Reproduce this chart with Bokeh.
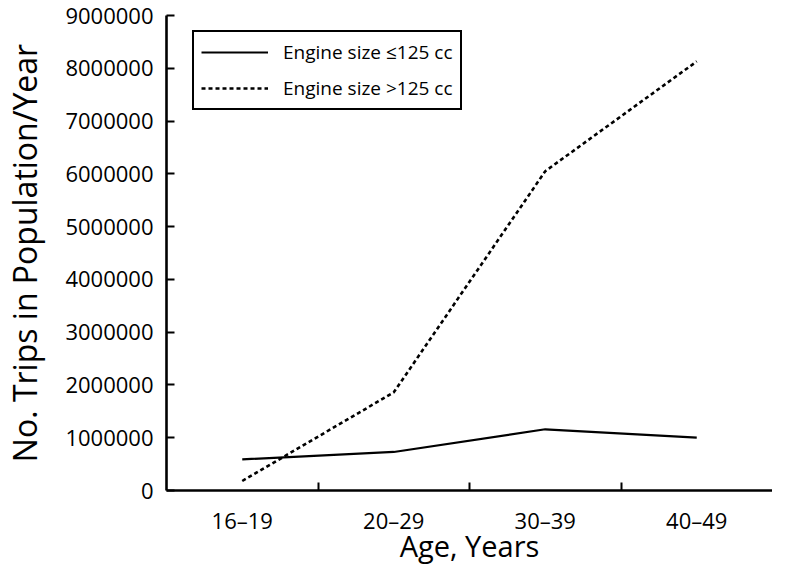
from bokeh.plotting import figure
from bokeh.models import Range1d, FixedTicker, Legend, LegendItem, BasicTickFormatter
from bokeh.embed import file_html
from bokeh.resources import INLINE

age_groups = ["16–19", "20–29", "30–39", "40–49"]
trips_small = [590000, 730000, 1160000, 1000000]
trips_large = [180000, 1860000, 6050000, 8130000]
y_ticks = [0, 1000000, 2000000, 3000000, 4000000, 5000000, 6000000, 7000000, 8000000, 9000000]
label_small = "Engine size ≤125 cc"
label_large = "Engine size >125 cc"

FONT = "Open Sans"

x_pos = [i + 0.5 for i in range(len(age_groups))]
boundaries = [i for i in range(1, len(age_groups))]

p = figure(width=772, height=568, output_backend="svg", toolbar_location=None,
           x_range=Range1d(0, len(age_groups)), y_range=Range1d(0, y_ticks[-1]),
           min_border_left=154, min_border_right=0, min_border_top=15, min_border_bottom=78)

p.outline_line_color = None
p.xgrid.visible = False
p.ygrid.visible = False
p.background_fill_color = "white"
p.border_fill_color = "white"

r1 = p.line(x_pos, trips_small, line_color="black", line_width=2.2)
r2 = p.line(x_pos, trips_large, line_color="black", line_width=2.6, line_dash="4 3")

# x axis
xa = p.xaxis[0]
xa.ticker = FixedTicker(ticks=x_pos, minor_ticks=boundaries)
xa.major_label_overrides = {x: lab for x, lab in zip(x_pos, age_groups)}
xa.major_tick_in = 0
xa.major_tick_out = 0
xa.minor_tick_in = 8
xa.minor_tick_out = 0
xa.minor_tick_line_color = "black"
xa.minor_tick_line_width = 2
xa.axis_line_width = 2.6
xa.axis_line_color = "black"
xa.major_label_text_font = FONT
xa.major_label_text_font_size = "22px"
xa.major_label_text_color = "black"
xa.major_label_standoff = 14
xa.axis_label = "Age, Years"
xa.axis_label_text_font = FONT
xa.axis_label_text_font_size = "29px"
xa.axis_label_text_font_style = "normal"
xa.axis_label_text_color = "black"
xa.axis_label_standoff = -12

# y axis
ya = p.yaxis[0]
ya.ticker = FixedTicker(ticks=y_ticks, minor_ticks=[])
ya.formatter = BasicTickFormatter(use_scientific=False)
ya.major_tick_in = 8
ya.major_tick_out = 0
ya.major_tick_line_width = 2
ya.major_tick_line_color = "black"
ya.minor_tick_line_color = None
ya.axis_line_width = 2.6
ya.axis_line_color = "black"
ya.major_label_text_font = FONT
ya.major_label_text_font_size = "22px"
ya.major_label_text_color = "black"
ya.major_label_standoff = 13
ya.axis_label = "No. Trips in Population/Year"
ya.axis_label_text_font = FONT
ya.axis_label_text_font_size = "32px"
ya.axis_label_text_font_style = "normal"
ya.axis_label_text_color = "black"
ya.axis_label_standoff = 16

legend = Legend(items=[LegendItem(label=label_small, renderers=[r1]),
                       LegendItem(label=label_large, renderers=[r2])],
                location=(26, 380))
legend.glyph_width = 67
legend.glyph_height = 20
legend.label_standoff = 15
legend.padding = 7
legend.spacing = 10
legend.margin = 0
legend.label_text_font = FONT
legend.label_text_font_size = "19px"
legend.label_text_color = "black"
legend.border_line_color = "black"
legend.border_line_alpha = 1.0
legend.border_line_width = 2
legend.background_fill_color = "white"
legend.background_fill_alpha = 1
p.add_layout(legend)

open("out.html", "w").write(file_html(p, INLINE))
